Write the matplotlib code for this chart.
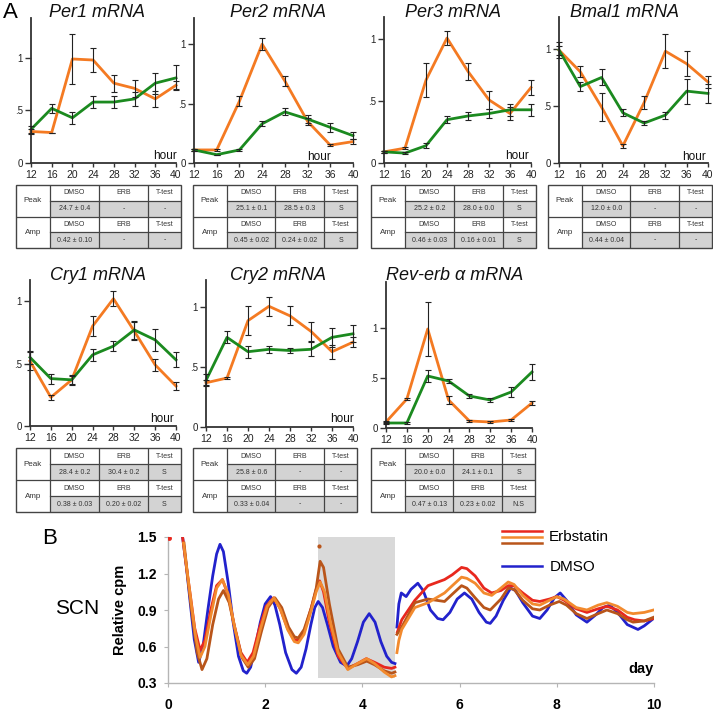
import matplotlib.pyplot as plt
from matplotlib.patches import Rectangle

plt.rcParams['font.family'] = ['Liberation Sans', 'DejaVu Sans']

W, H = 713, 712
fig = plt.figure(figsize=(W / 100, H / 100), dpi=100)


def px_axes(x0, y0, x1, y1):
    # pixel box (left, top, right, bottom) -> figure axes
    return fig.add_axes([x0 / W, 1 - y1 / H, (x1 - x0) / W, (y1 - y0) / H])


# ---------------- data: panel A ----------------
hours = [12, 16, 20, 24, 28, 32, 36, 40]
titles = ['Per1 mRNA', 'Per2 mRNA', 'Per3 mRNA', 'Bmal1 mRNA',
          'Cry1 mRNA', 'Cry2 mRNA', 'Rev-erb \u03b1 mRNA']

orange_means = [
    [0.30, 0.29, 0.99, 0.98, 0.76, 0.71, 0.61, 0.74],
    [0.11, 0.11, 0.52, 1.00, 0.69, 0.35, 0.15, 0.18],
    [0.09, 0.12, 0.67, 1.01, 0.74, 0.51, 0.40, 0.61],
    [0.99, 0.80, 0.49, 0.15, 0.53, 0.98, 0.87, 0.71],
    [0.52, 0.23, 0.37, 0.80, 1.02, 0.76, 0.49, 0.32],
    [0.37, 0.41, 0.89, 1.01, 0.93, 0.80, 0.63, 0.71],
    [0.06, 0.29, 0.99, 0.28, 0.07, 0.06, 0.08, 0.25],
]
orange_errs = [
    [0.02, 0.00, 0.24, 0.11, 0.08, 0.08, 0.08, 0.04],
    [0.01, 0.01, 0.04, 0.05, 0.04, 0.03, 0.01, 0.02],
    [0.01, 0.01, 0.14, 0.06, 0.07, 0.07, 0.05, 0.06],
    [0.04, 0.05, 0.12, 0.02, 0.06, 0.15, 0.11, 0.05],
    [0.07, 0.02, 0.04, 0.08, 0.06, 0.07, 0.05, 0.03],
    [0.02, 0.01, 0.12, 0.08, 0.08, 0.08, 0.06, 0.04],
    [0.01, 0.01, 0.27, 0.04, 0.01, 0.01, 0.01, 0.02],
]
green_means = [
    [0.32, 0.52, 0.43, 0.58, 0.58, 0.61, 0.76, 0.81],
    [0.11, 0.07, 0.11, 0.33, 0.43, 0.37, 0.30, 0.23],
    [0.09, 0.08, 0.14, 0.35, 0.38, 0.40, 0.43, 0.43],
    [0.99, 0.67, 0.75, 0.44, 0.35, 0.42, 0.63, 0.61],
    [0.55, 0.38, 0.37, 0.57, 0.64, 0.77, 0.69, 0.53],
    [0.39, 0.75, 0.63, 0.65, 0.64, 0.65, 0.75, 0.78],
    [0.05, 0.05, 0.52, 0.47, 0.32, 0.28, 0.36, 0.56],
]
green_errs = [
    [0.03, 0.04, 0.06, 0.06, 0.06, 0.07, 0.10, 0.12],
    [0.01, 0.00, 0.01, 0.02, 0.03, 0.03, 0.04, 0.03],
    [0.01, 0.01, 0.02, 0.03, 0.03, 0.04, 0.05, 0.05],
    [0.07, 0.04, 0.07, 0.03, 0.02, 0.03, 0.11, 0.08],
    [0.05, 0.04, 0.03, 0.05, 0.04, 0.07, 0.09, 0.06],
    [0.05, 0.05, 0.05, 0.03, 0.02, 0.06, 0.08, 0.07],
    [0.01, 0.01, 0.06, 0.02, 0.02, 0.02, 0.05, 0.08],
]

table_headers = ['DMSO', 'ERB', 'T-test']
peak_rows = [
    ['24.7 \u00b1 0.4', '-', '-'],
    ['25.1 \u00b1 0.1', '28.5 \u00b1 0.3', 'S'],
    ['25.2 \u00b1 0.2', '28.0 \u00b1 0.0', 'S'],
    ['12.0 \u00b1 0.0', '-', '-'],
    ['28.4 \u00b1 0.2', '30.4 \u00b1 0.2', 'S'],
    ['25.8 \u00b1 0.6', '-', '-'],
    ['20.0 \u00b1 0.0', '24.1 \u00b1 0.1', 'S'],
]
amp_rows = [
    ['0.42 \u00b1 0.10', '-', '-'],
    ['0.45 \u00b1 0.02', '0.24 \u00b1 0.02', 'S'],
    ['0.46 \u00b1 0.03', '0.16 \u00b1 0.01', 'S'],
    ['0.44 \u00b1 0.04', '-', '-'],
    ['0.38 \u00b1 0.03', '0.20 \u00b1 0.02', 'S'],
    ['0.33 \u00b1 0.04', '-', '-'],
    ['0.47 \u00b1 0.13', '0.23 \u00b1 0.02', 'N.S'],
]

# ---------------- data: panel B (relative cpm by day, nan = recording gap) ----------------
nan = float('nan')
blue_day = [0.30, 0.38, 0.46, 0.54, 0.63, 0.72, 0.82, 0.92, 1.00, 1.07, 1.14, 1.24, 1.34,
            1.45, 1.55, 1.62, 1.70, 1.80, 1.90, 2.00, 2.11, 2.20, 2.30, 2.42, 2.55, 2.64,
            2.74, 2.84, 2.94, 3.02, 3.09, 3.18, 3.28, 3.40, 3.55, 3.68, 3.78, 3.90, 4.02,
            4.14, 4.26, 4.38, 4.50, 4.60, 4.67, 4.69,
            4.71, 4.75, 4.80, 4.90, 5.00, 5.14, 5.25, 5.40, 5.55, 5.66, 5.80, 5.95, 6.10,
            6.25, 6.40, 6.55, 6.63, 6.75, 6.90, 7.05, 7.15, 7.30, 7.50, 7.65, 7.80, 7.95,
            8.07, 8.20, 8.40, 8.62, 8.80, 8.95, 9.09, 9.25, 9.45, 9.67, 9.80, 9.99]
blue_val = [1.50, 1.25, 0.95, 0.66, 0.47, 0.60, 0.90, 1.18, 1.36, 1.44, 1.38, 1.12, 0.80,
            0.52, 0.40, 0.38, 0.43, 0.60, 0.80, 0.95, 1.01, 0.94, 0.78, 0.55, 0.41, 0.38,
            0.43, 0.58, 0.78, 0.92, 0.97, 0.92, 0.78, 0.60, 0.47, 0.44, 0.50, 0.64, 0.80,
            0.87, 0.80, 0.64, 0.52, 0.47, 0.46, nan,
            0.76, 0.95, 1.04, 1.01, 1.07, 1.12, 1.06, 0.90, 0.83, 0.82, 0.88, 0.99, 1.04,
            0.99, 0.88, 0.80, 0.79, 0.85, 0.98, 1.08, 1.06, 0.96, 0.85, 0.83, 0.90, 1.00,
            1.04, 0.98, 0.86, 0.80, 0.86, 0.92, 0.94, 0.88, 0.78, 0.74, 0.77, 0.83]

red_day = [0.30, 0.38, 0.46, 0.55, 0.66, 0.76, 0.88, 1.00, 1.12, 1.24, 1.36, 1.50, 1.63,
           1.75, 1.88, 2.02, 2.17, 2.30, 2.45, 2.58, 2.67, 2.80, 2.95, 3.05, 3.12, 3.20,
           3.32, 3.50, 3.70, 3.90, 4.08, 4.25, 4.45, 4.60, 4.67, 4.69,
           4.72, 4.81, 5.08, 5.35, 5.69, 5.85, 6.04, 6.15, 6.32, 6.50, 6.66, 6.85, 7.00,
           7.12, 7.30, 7.50, 7.65, 7.85, 8.00, 8.15, 8.40, 8.62, 8.85, 9.03, 9.25, 9.45,
           9.60, 9.80, 9.99]
red_val = [1.50, 1.25, 1.02, 0.75, 0.57, 0.65, 0.90, 1.10, 1.15, 1.02, 0.78, 0.55, 0.47,
           0.55, 0.75, 0.93, 1.00, 0.92, 0.76, 0.66, 0.65, 0.72, 0.92, 1.07, 1.14, 1.05,
           0.80, 0.52, 0.42, 0.46, 0.50, 0.47, 0.43, 0.42, 0.43, nan,
           0.72, 0.82, 0.98, 1.10, 1.15, 1.19, 1.25, 1.24, 1.18, 1.08, 1.04, 1.06, 1.10,
           1.10, 1.04, 0.98, 0.97, 0.99, 1.01, 0.98, 0.91, 0.88, 0.91, 0.93, 0.90, 0.84,
           0.82, 0.81, 0.83]

orange_day = [0.32, 0.40, 0.48, 0.57, 0.66, 0.76, 0.88, 1.00, 1.12, 1.24, 1.36, 1.50, 1.64,
              1.76, 1.90, 2.04, 2.18, 2.32, 2.46, 2.60, 2.68, 2.80, 2.95, 3.05, 3.13, 3.22,
              3.34, 3.50, 3.70, 3.90, 4.09, 4.25, 4.45, 4.60, 4.67, 4.69,
              4.71, 4.75, 4.81, 5.08, 5.35, 5.69, 5.85, 6.04, 6.15, 6.32, 6.50, 6.66, 6.85,
              7.00, 7.12, 7.30, 7.50, 7.65, 7.85, 8.00, 8.15, 8.40, 8.62, 8.85, 9.03, 9.25,
              9.45, 9.57, 9.80, 9.99]
orange_val = [1.45, 1.20, 0.95, 0.68, 0.51, 0.60, 0.85, 1.08, 1.15, 1.03, 0.78, 0.53, 0.45,
              0.52, 0.74, 0.93, 1.00, 0.90, 0.74, 0.64, 0.63, 0.70, 0.90, 1.05, 1.13, 1.05,
              0.80, 0.55, 0.41, 0.46, 0.50, 0.46, 0.39, 0.35, 0.36, nan,
              0.55, 0.65, 0.74, 0.92, 0.96, 1.04, 1.10, 1.17, 1.16, 1.12, 1.04, 1.02, 1.08,
              1.13, 1.11, 1.02, 0.95, 0.94, 0.98, 1.01, 0.99, 0.92, 0.90, 0.94, 0.96, 0.93,
              0.88, 0.87, 0.88, 0.90]

brown_day = [0.33, 0.41, 0.50, 0.60, 0.70, 0.80, 0.92, 1.04, 1.14, 1.26, 1.38, 1.52, 1.65,
             1.78, 1.92, 2.06, 2.20, 2.34, 2.48, 2.60, 2.68, 2.80, 2.95, 3.05, 3.13, 3.20,
             3.32, 3.50, 3.70, 3.90, 4.09, 4.25, 4.45, 4.60, 4.67, 4.69,
             4.71, 4.81, 5.08, 5.35, 5.69, 5.85, 6.04, 6.15, 6.32, 6.50, 6.63, 6.85, 7.00,
             7.12, 7.30, 7.50, 7.65, 7.85, 8.05, 8.20, 8.40, 8.62, 8.85, 9.03, 9.25, 9.45,
             9.57, 9.80, 9.99]
brown_val = [1.45, 1.15, 0.85, 0.55, 0.41, 0.50, 0.78, 0.99, 1.06, 0.96, 0.74, 0.51, 0.43,
             0.50, 0.72, 0.92, 1.00, 0.92, 0.76, 0.68, 0.67, 0.74, 0.92, 1.08, 1.30, 1.25,
             0.95, 0.58, 0.43, 0.45, 0.48, 0.45, 0.40, 0.38, 0.39, nan,
             0.70, 0.76, 0.96, 0.99, 0.97, 1.03, 1.10, 1.08, 1.00, 0.92, 0.90, 0.99, 1.08,
             1.07, 0.98, 0.91, 0.90, 0.94, 0.97, 0.94, 0.87, 0.83, 0.87, 0.90, 0.87, 0.82,
             0.80, 0.81, 0.84]

# ---------------- layout (pixels) ----------------
ORANGE = '#f47a22'
GREEN = '#1b8a1f'
AXC = '#333333'

# left, top, right, bottom, ylim top
axes_boxes = [
    (31, 18, 176, 163, 1.38),
    (194, 18, 353, 163, 1.22),
    (384, 17, 531, 163, 1.18),
    (559, 17, 708, 163, 1.28),
    (30, 280, 176, 426, 1.17),
    (206, 280, 353, 427, 1.23),
    (386, 282, 532, 428, 1.46),
]
title_pos = [(97, 17), (278, 17), (453, 17), (625, 17), (98, 280), (278, 280), (455, 280)]
hour_pos = [(177, 159), (331, 160), (529, 159), (706, 160), (174, 422), (354, 422), None]
table_boxes = [
    (16, 185, 181, 248), (193, 185, 357, 248), (371, 185, 536, 248), (548, 185, 712, 248),
    (16, 448, 181, 512), (193, 448, 357, 512), (371, 448, 535, 512),
]

# overlay for free text
ov = fig.add_axes([0, 0, 1, 1])
ov.set_xlim(0, W)
ov.set_ylim(H, 0)
ov.axis('off')

for i in range(7):
    x0, y0, x1, y1, ytop = axes_boxes[i]
    ax = px_axes(x0, y0, x1, y1)
    ax.plot(hours, orange_means[i], color=ORANGE, lw=2.0, zorder=2)
    ax.plot(hours, green_means[i], color=GREEN, lw=2.0, zorder=2)
    ax.errorbar(hours, orange_means[i], yerr=orange_errs[i], fmt='none', ecolor='#222222',
                elinewidth=0.8, capsize=2, capthick=0.8, zorder=3)
    ax.errorbar(hours, green_means[i], yerr=green_errs[i], fmt='none', ecolor='#222222',
                elinewidth=0.8, capsize=2, capthick=0.8, zorder=3)
    for art in ax.lines + ax.collections:
        art.set_clip_on(False)
    ax.set_xlim(12, 40)
    ax.set_ylim(0, ytop)
    ax.set_xticks(hours)
    ax.set_yticks([0, 0.5, 1])
    ax.set_yticklabels(['0', '.5', '1'])
    ax.patch.set_visible(False)
    for s in ('top', 'right'):
        ax.spines[s].set_visible(False)
    for s in ('left', 'bottom'):
        ax.spines[s].set_color(AXC)
        ax.spines[s].set_linewidth(1.3)
    ax.tick_params(axis='x', length=3, width=1, colors=AXC, labelsize=7.5, pad=2,
                   labelcolor='#222222')
    ax.tick_params(axis='y', length=4, width=1, colors=AXC, labelsize=7, pad=2,
                   labelcolor='#222222')
    ov.text(*title_pos[i], titles[i], ha='center', va='baseline', fontsize=13,
            style='italic', color='#111111')
    if hour_pos[i] is not None:
        ov.text(*hour_pos[i], 'hour', ha='right', va='baseline', fontsize=8.5,
                color='#111111')

    # peak / amplitude table
    tx0, ty0, tx1, ty1 = table_boxes[i]
    tax = px_axes(tx0, ty0, tx1, ty1)
    tax.set_xlim(0, 1)
    tax.set_ylim(4, 0)
    tax.axis('off')
    cols = [0, 0.206, 0.503, 0.8, 1.0]
    for r in (1, 3):
        tax.add_patch(Rectangle((cols[1], r), 1 - cols[1], 1, facecolor='#d3d3d3',
                                edgecolor='none', zorder=1))
    lc = '#444444'
    tax.add_patch(Rectangle((0, 0), 1, 4, facecolor='none', edgecolor=lc, lw=1.0,
                            zorder=3, clip_on=False))
    tax.plot([0, 1], [2, 2], color=lc, lw=0.9, zorder=3)
    for r in (1, 3):
        tax.plot([cols[1], 1], [r, r], color=lc, lw=0.9, zorder=3)
    for c in cols[1:4]:
        tax.plot([c, c], [0, 4], color=lc, lw=0.9, zorder=3)
    tax.text(cols[1] / 2, 1, 'Peak', ha='center', va='center', fontsize=5.8, color='#333333')
    tax.text(cols[1] / 2, 3, 'Amp', ha='center', va='center', fontsize=5.8, color='#333333')
    for j in range(3):
        cx = (cols[j + 1] + cols[j + 2]) / 2
        tax.text(cx, 0.5, table_headers[j], ha='center', va='center', fontsize=5, color='#333333')
        tax.text(cx, 2.5, table_headers[j], ha='center', va='center', fontsize=5, color='#333333')
        tax.text(cx, 1.5, peak_rows[i][j], ha='center', va='center', fontsize=5, color='#333333')
        tax.text(cx, 3.5, amp_rows[i][j], ha='center', va='center', fontsize=5, color='#333333')

# ---------------- panel B ----------------
axb = px_axes(168, 537, 654, 683)
axb.axvspan(3.08, 4.67, ymin=(0.34 - 0.3) / 1.2, ymax=1.0, color='#d9d9d9', lw=0, zorder=0)
axb.plot(blue_day, blue_val, color='#2222cc', lw=2.0, zorder=2)
axb.plot(red_day, red_val, color='#e8281e', lw=2.0, zorder=3)
axb.plot(orange_day, orange_val, color='#f28a2e', lw=2.0, zorder=4)
axb.plot(brown_day, brown_val, color='#b9551a', lw=2.0, zorder=3)
axb.plot([0.02], [1.49], 'o', color='#e8281e', ms=2.5, zorder=3)
axb.plot([3.1], [1.43], 'o', color='#b9551a', ms=2, zorder=3)
axb.set_xlim(0, 10)
axb.set_ylim(0.3, 1.5)
axb.set_xticks([0, 2, 4, 6, 8, 10])
axb.set_yticks([0.3, 0.6, 0.9, 1.2, 1.5])
axb.set_yticklabels(['0.3', '0.6', '0.9', '1.2', '1.5'])
axb.patch.set_visible(False)
for s in ('top', 'right'):
    axb.spines[s].set_visible(False)
for s in ('left', 'bottom'):
    axb.spines[s].set_color('#b5b5b5')
    axb.spines[s].set_linewidth(1.0)
axb.tick_params(axis='x', length=3, colors='#b5b5b5', labelcolor='black', pad=8)
axb.tick_params(axis='y', length=3, colors='#b5b5b5', labelcolor='black', pad=5)
for lab in axb.get_xticklabels() + axb.get_yticklabels():
    lab.set_fontweight('bold')
    lab.set_fontsize(10)

ov.text(10, 13, 'A', ha='center', va='center', fontsize=16)
ov.text(50, 538, 'B', ha='center', va='center', fontsize=16)
ov.text(77, 609, 'SCN', ha='center', va='center', fontsize=15)
ov.text(120, 610, 'Relative cpm', ha='center', va='center', fontsize=10.5,
        fontweight='bold', rotation=90)
ov.text(654, 669, 'day', ha='right', va='center', fontsize=10.5, fontweight='bold')

# legend
for yy, cc in zip((531, 537, 543), ('#e8281e', '#f28a2e', '#b9551a')):
    ov.plot([502, 542], [yy, yy], color=cc, lw=1.8)
ov.plot([502, 542], [566, 566], color='#2222cc', lw=1.8)
ov.text(549, 537, 'Erbstatin', ha='left', va='center', fontsize=11)
ov.text(550, 567, 'DMSO', ha='left', va='center', fontsize=11)

fig.savefig('out.png', dpi=100)
